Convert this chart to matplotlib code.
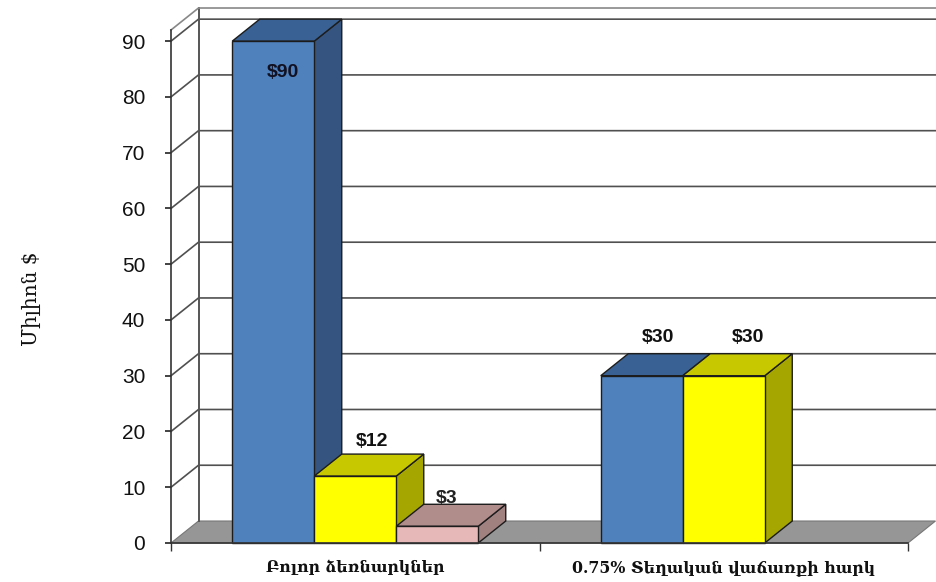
import matplotlib
matplotlib.use('Agg')
import matplotlib.pyplot as plt
from matplotlib.patches import Polygon

# Datos
categorias = ['Բոլոր ձեռնարկներ', '0.75% Տեղական վաճառքի հարկ']
azul = [90, 30]
amarillo = [12, 30]
rosa = [3, 0]
etiquetas_azul = ['$90', '$30']
etiquetas_amarillo = ['$12', '$30']
etiquetas_rosa = ['$3', '']
marcas_y = [0, 10, 20, 30, 40, 50, 60, 70, 80, 90]

# colores: frente, arriba, lado
colores = [('#4F81BD', '#3A6193', '#355480'),
           ('#FFFF00', '#C8C800', '#A6A600'),
           ('#E6B9B8', '#B08C8B', '#A08180')]

ANCHO, ALTO = 936, 582
fig = plt.figure(figsize=(ANCHO / 100, ALTO / 100), dpi=100)
# el eje frontal va de x=171 a 908 y de y=543 a 30 en pixeles
ax = fig.add_axes([171 / ANCHO, 1 - 543 / ALTO, 737 / ANCHO, 513 / ALTO])
ax.set_xlim(0, 2)
ax.set_ylim(0, 92)
ax.patch.set_visible(False)

# profundidad del 3D en unidades de datos
prof_x = 27.5 / 368.5
prof_y = 22 / 5.578
ancho_barra = 82 / 368.5
borde = '#1c1c1c'

# piso
ax.add_patch(Polygon([(0, 0), (2, 0), (2 + prof_x, prof_y), (prof_x, prof_y)],
                     facecolor='#969696', edgecolor='#777777', lw=0.8,
                     clip_on=False, zorder=1))

# paredes y cuadricula
for v in marcas_y[1:]:
    ax.plot([0, prof_x, 2 + prof_x], [v, v + prof_y, v + prof_y], color='#505050',
            lw=1.2, clip_on=False, zorder=1)
ax.plot([prof_x, prof_x], [prof_y, 92 + prof_y], color='#555555', lw=1.4, clip_on=False, zorder=1)
ax.plot([0, prof_x, 2 + prof_x], [92, 92 + prof_y, 92 + prof_y], color='#888888', lw=1.2,
        clip_on=False, zorder=1)


def barra(x, valor, colores_barra):
    frente, arriba, lado = colores_barra
    ax.add_patch(Polygon([(x + ancho_barra, 0), (x + ancho_barra + prof_x, prof_y),
                          (x + ancho_barra + prof_x, valor + prof_y), (x + ancho_barra, valor)],
                         facecolor=lado, edgecolor=borde, lw=1, clip_on=False, zorder=2))
    ax.add_patch(Polygon([(x, valor), (x + ancho_barra, valor),
                          (x + ancho_barra + prof_x, valor + prof_y), (x + prof_x, valor + prof_y)],
                         facecolor=arriba, edgecolor=borde, lw=1, clip_on=False, zorder=2))
    ax.bar(x, valor, ancho_barra, align='edge', color=frente, edgecolor=borde, lw=1,
           clip_on=False, zorder=2)


# dibujar en orden de izquierda a derecha
series = [azul, amarillo, rosa]
for i in range(len(categorias)):
    inicio = i + 0.5 - 1.5 * ancho_barra
    for j, serie in enumerate(series):
        if serie[i] > 0:
            barra(inicio + j * ancho_barra, serie[i], colores[j])

# etiquetas de valores (desplazadas a mano como en la original)
fuente = ['Liberation Sans', 'DejaVu Sans']
inicio0 = 0.5 - 1.5 * ancho_barra
inicio1 = 1.5 - 1.5 * ancho_barra
ax.text(inicio0 + 0.62 * ancho_barra, azul[0] - 5.7, etiquetas_azul[0], ha='center', va='center',
        fontsize=14, fontweight='bold', family=fuente, color='#111122', zorder=5)
ax.text(inicio0 + 1.71 * ancho_barra, amarillo[0] + 6.2, etiquetas_amarillo[0], ha='center', va='center',
        fontsize=14, fontweight='bold', family=fuente, color='#111111', zorder=5)
ax.text(inicio0 + 2.62 * ancho_barra, rosa[0] + 4.9, etiquetas_rosa[0], ha='center', va='center',
        fontsize=14, fontweight='bold', family=fuente, color='#222222', zorder=5)
ax.text(inicio1 + 0.7 * ancho_barra, azul[1] + 6.8, etiquetas_azul[1], ha='center', va='center',
        fontsize=14, fontweight='bold', family=fuente, color='#111111', zorder=5)
ax.text(inicio1 + 1.79 * ancho_barra, amarillo[1] + 6.8, etiquetas_amarillo[1], ha='center', va='center',
        fontsize=14, fontweight='bold', family=fuente, color='#111111', zorder=5)

# ejes
for lado in ['top', 'right']:
    ax.spines[lado].set_visible(False)
ax.spines['left'].set_color('#333333')
ax.spines['bottom'].set_color('#333333')
ax.spines['left'].set_linewidth(1.2)
ax.spines['bottom'].set_linewidth(1.2)
ax.set_yticks(marcas_y)
ax.set_yticklabels([str(m) for m in marcas_y], fontsize=15, family=fuente, color='#111111')
ax.tick_params(axis='y', length=4.5, width=1.2, pad=14, color='#222222')
ax.set_xticks([0, 1, 2])
ax.set_xticklabels([])
ax.tick_params(axis='x', length=6, width=1, color='#333333')
for i, c in enumerate(categorias):
    ax.text(i + 0.5, -4.4, c, ha='center', va='center', fontsize=11.3, fontweight='bold',
            family=['DejaVu Serif', 'DejaVu Sans'], color='#111111')

fig.text(31 / ANCHO, 1 - 299 / ALTO, 'Միլիոն $', rotation=90, ha='center', va='center',
         fontsize=14.5, family=['DejaVu Serif', 'DejaVu Sans'], color='#111111')

fig.savefig('out.png', dpi=100)
